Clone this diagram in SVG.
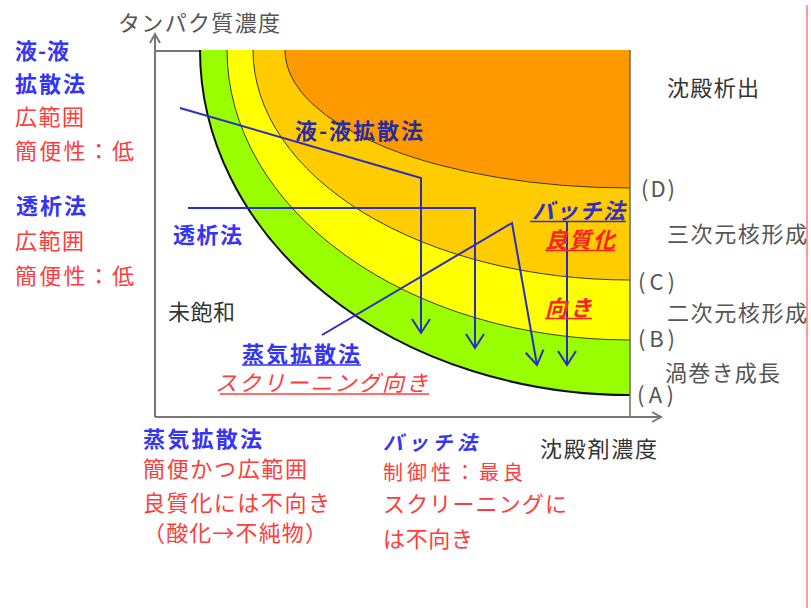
<svg xmlns="http://www.w3.org/2000/svg" width="811" height="608" viewBox="0 0 811 608">
<style>
text{font-family:"Noto Sans CJK JP","Noto Sans CJK SC",sans-serif;font-size:22px;}
.b{fill:#3535F5;font-weight:bold;}
.r{fill:#FF3C3C;}
.g{fill:#555555;}
.k{fill:#333333;}
.it{font-style:italic;}
.sm{font-size:20px;}
.ax{stroke:#777777;stroke-width:2;fill:none;}
.cv{stroke:#3a3a20;stroke-width:1;fill:none;}
.bl{stroke:#2B2BC8;stroke-width:2;fill:none;}
.ul{stroke-width:1.5;}
</style>
<defs>
<marker id="ah" markerWidth="20" markerHeight="24" refX="15" refY="10" orient="auto" markerUnits="userSpaceOnUse">
<path d="M1,1 L15,10 L1,19" fill="none" stroke="#2B2BC8" stroke-width="2"/>
</marker>
</defs>
<rect width="811" height="608" fill="#ffffff"/>
<line x1="807" y1="5" x2="807" y2="608" stroke="#FF9999" stroke-width="2"/>

<g id="plot">
<line class="ax" x1="155" y1="51" x2="200" y2="51"/>
<path d="M200,50 A430,345 0 0 0 630,395 L630,50 Z" fill="#99FF00"/>
<path d="M227,50 A403,290 0 0 0 630,340 L630,50 Z" fill="#FFFF00"/>
<path d="M253,50 A377,230 0 0 0 630,280 L630,50 Z" fill="#FFCC00"/>
<path d="M285,50 A345,138 0 0 0 630,188 L630,50 Z" fill="#FF9900"/>
<path d="M200,50 A430,345 0 0 0 630,395" stroke="#111" stroke-width="2" fill="none"/>
<path class="cv" d="M227,50 A403,290 0 0 0 630,340"/>
<path class="cv" d="M253,50 A377,230 0 0 0 630,280"/>
<path class="cv" d="M285,50 A345,138 0 0 0 630,188"/>
<line x1="630" y1="50" x2="630" y2="417" stroke="#6b6b50" stroke-width="1.5"/>
<path class="ax" d="M155,417 L155,34 M150,43 L155,34 L160,43"/>
<path class="ax" d="M155,417 L661,417 M652,412 L661,417 L652,422"/>
</g>

<g id="connectors">
<polyline class="bl" points="180,108 421,178 421,333" marker-end="url(#ah)"/>
<polyline class="bl" points="188,208 475,208 475,348" marker-end="url(#ah)"/>
<polyline class="bl" points="322,335 512,223 537,365" marker-end="url(#ah)"/>
<line class="bl" x1="567" y1="221" x2="567" y2="365" marker-end="url(#ah)"/>
</g>

<g id="axis-labels">
<text class="g" x="118" y="31" textLength="162" lengthAdjust="spacing">タンパク質濃度</text>
<text class="k" x="540" y="457" textLength="117" lengthAdjust="spacing">沈殿剤濃度</text>
</g>

<g id="left-ll">
<text class="b" x="15" y="59" textLength="54" lengthAdjust="spacing">液-液</text>
<text class="b" x="15" y="92" textLength="70" lengthAdjust="spacing">拡散法</text>
<text class="r" x="15" y="125" textLength="69" lengthAdjust="spacing">広範囲</text>
<text class="r" x="15" y="159" textLength="119" lengthAdjust="spacing">簡便性：低</text>
</g>
<g id="left-dialysis">
<text class="b" x="16" y="214" textLength="70" lengthAdjust="spacing">透析法</text>
<text class="r" x="15" y="249" textLength="69" lengthAdjust="spacing">広範囲</text>
<text class="r" x="15" y="284" textLength="119" lengthAdjust="spacing">簡便性：低</text>
</g>

<g id="right-labels">
<text class="k" x="667" y="96" textLength="92" lengthAdjust="spacing">沈殿析出</text>
<text class="g" x="641" y="197" textLength="34" lengthAdjust="spacing">(D)</text>
<text class="g" x="667" y="242" textLength="140" lengthAdjust="spacing">三次元核形成</text>
<text class="g" x="638" y="290" textLength="37" lengthAdjust="spacing">(C)</text>
<text class="g" x="667" y="321" textLength="140" lengthAdjust="spacing">二次元核形成</text>
<text class="g" x="638" y="347" textLength="37" lengthAdjust="spacing">(B)</text>
<text class="g" x="665" y="381" textLength="115" lengthAdjust="spacing">渦巻き成長</text>
<text class="g" x="637" y="403" textLength="37" lengthAdjust="spacing">(A)</text>
</g>

<g id="plot-ll">
<text x="295" y="139" textLength="128" lengthAdjust="spacing" fill="#2B2BA0" font-weight="bold">液-液拡散法</text>
</g>
<g id="plot-dialysis">
<text class="b" x="173" y="243" textLength="69" lengthAdjust="spacing">透析法</text>
</g>
<g id="plot-unsat">
<text class="k" x="168" y="320" textLength="67" lengthAdjust="spacing">未飽和</text>
</g>
<g id="plot-vapor">
<text class="b" x="242" y="362" textLength="118" lengthAdjust="spacing">蒸気拡散法</text>
<line class="ul" x1="242" y1="365" x2="361" y2="365" stroke="#3535F5"/>
<text class="r it" x="215" y="391" textLength="213" lengthAdjust="spacing">スクリーニング向き</text>
<line class="ul" x1="220" y1="394" x2="429" y2="394" stroke="#FF3C3C"/>
</g>
<g id="plot-batch">
<text class="it" x="532" y="219" textLength="93" lengthAdjust="spacing" fill="#3030C8" font-weight="bold">バッチ法</text>
<line class="ul" x1="530" y1="221.5" x2="626" y2="221.5" stroke="#3030C8"/>
<text class="it" x="545" y="248" textLength="70" lengthAdjust="spacing" fill="#FF2020" font-weight="bold">良質化</text>
<line class="ul" x1="545" y1="250.5" x2="615" y2="250.5" stroke="#FF2020"/>
<text class="it" x="545" y="316" textLength="47" lengthAdjust="spacing" fill="#FF2020" font-weight="bold">向き</text>
<line class="ul" x1="545" y1="318.5" x2="592" y2="318.5" stroke="#FF2020"/>
</g>

<g id="bottom-vapor">
<text class="b" x="143" y="447" textLength="119" lengthAdjust="spacing">蒸気拡散法</text>
<text class="r" x="143" y="477" textLength="164" lengthAdjust="spacing">簡便かつ広範囲</text>
<text class="r" x="143" y="511" textLength="187" lengthAdjust="spacing">良質化には不向き</text>
<text class="r" x="143" y="541" textLength="184" lengthAdjust="spacing">（酸化→不純物）</text>
</g>
<g id="bottom-batch">
<text class="b it sm" x="383" y="450" textLength="94" lengthAdjust="spacing">バッチ法</text>
<text class="r sm" x="383" y="480" textLength="140" lengthAdjust="spacing">制御性：最良</text>
<text class="r" x="383" y="512" textLength="184" lengthAdjust="spacing">スクリーニングに</text>
<text class="r" x="383" y="547" textLength="90" lengthAdjust="spacing">は不向き</text>
</g>
</svg>
